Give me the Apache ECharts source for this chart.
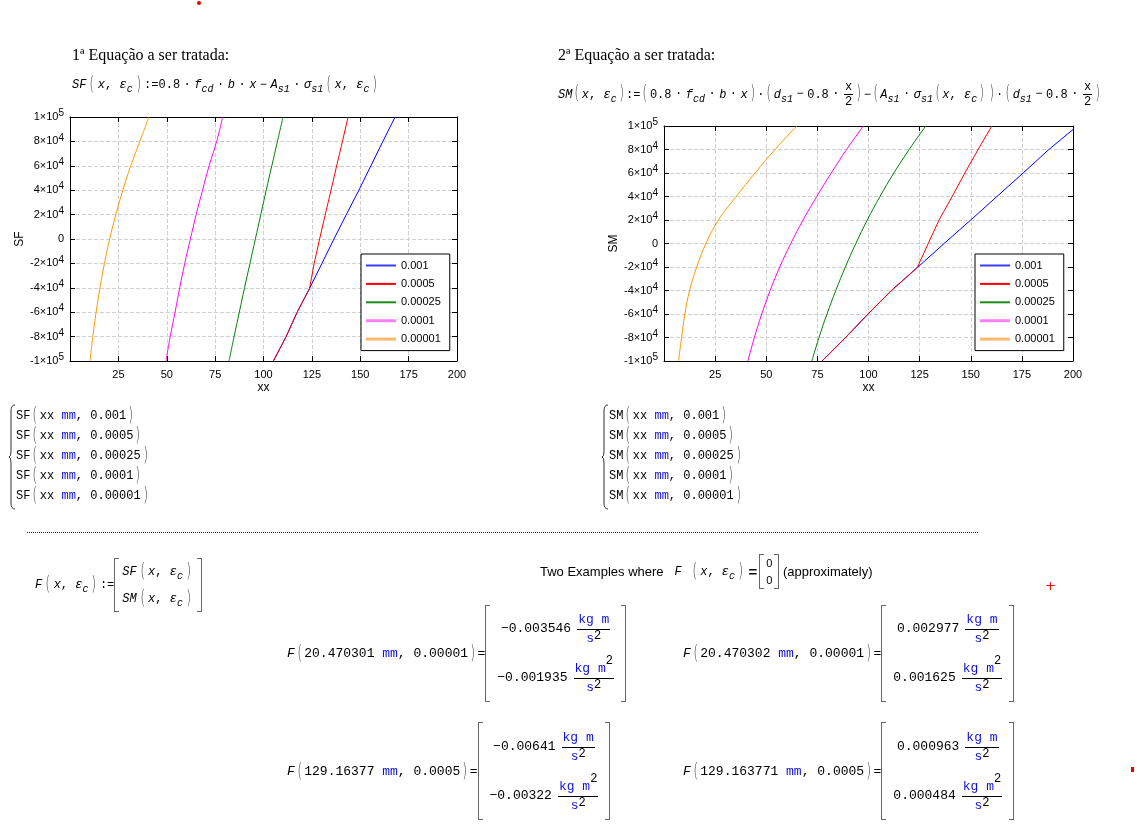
<!DOCTYPE html>
<html>
<head>
<meta charset="utf-8">
<script src="https://cdn.jsdelivr.net/npm/echarts@6/dist/echarts.min.js"></script>
<style>
body{margin:0;background:#fff;}
.page{position:relative;width:1137px;height:832px;overflow:hidden;}
#chart{position:absolute;left:0;top:0;width:1137px;height:832px;}
.t{position:absolute;white-space:nowrap;color:#000;}
.ser{font-family:"Liberation Serif";font-size:16px;}
.mc{font-family:"Liberation Mono";font-size:12px;}
.sans{font-family:"Liberation Sans";font-size:13px;}
.mc i{font-style:italic;}
.mc sub{font-size:10px;font-style:italic;vertical-align:-4px;line-height:0;}
.o{margin:0 3.5px;}
.u{color:#1010e0;}
.p{font-family:"DejaVu Sans";font-weight:200;font-size:19px;color:#333;display:inline-block;transform:scaleX(.6);vertical-align:-2px;line-height:10px;margin:0 1px;}
.wp .p{margin:0 2px;}
.mat{position:relative;display:inline-flex;flex-direction:column;align-items:center;justify-content:space-around;padding:0 9px;vertical-align:middle;}
.mat:before,.mat:after{content:"";position:absolute;top:0;bottom:0;width:4px;border:1.5px solid #666;}
.mat:before{left:0;border-right:none;}
.mat:after{right:0;border-left:none;}
.fr{display:inline-flex;flex-direction:column;align-items:center;vertical-align:middle;margin-left:6px;}
.fr .n{border-bottom:1px solid #000;padding:0 1px 2px;}
.fr .d{padding-top:1px;}
.fr sup{color:#000;font-size:12px;line-height:0;vertical-align:3px;}
.fr .n sup{vertical-align:8px;}
.xf{display:inline-flex;flex-direction:column;align-items:center;vertical-align:middle;margin:0 1px;}
.xf span:first-child{border-bottom:1px solid #000;padding:0 1px;}
.res{display:flex;align-items:center;}
.res .mat{height:100%;}
.big{font-size:13px;}
.lst{line-height:20px;}
</style>
</head>
<body>
<div class="page">
	<div id="chart"></div>

	<div class="t" style="left:197px;top:1px;width:4px;height:4px;border-radius:2px;background:#e00;"></div>

	<div class="t ser" style="left:72px;top:46px;">1ª Equação a ser tratada:</div>
	<div class="t mc wp" style="left:72px;top:78px;"><i>SF</i><span class="p">(</span><i>x</i>, <i>ε</i><sub>c</sub><span class="p">)</span>:=0.8<span class="o">·</span><i>f</i><sub>cd</sub><span class="o">·</span><i>b</i><span class="o">·</span><i>x</i><span class="o">−</span><i>A</i><sub>s1</sub><span class="o">·</span><i>σ</i><sub>s1</sub><span class="p">(</span><i>x</i>, <i>ε</i><sub>c</sub><span class="p">)</span></div>

	<div class="t ser" style="left:558px;top:46px;">2ª Equação a ser tratada:</div>
	<div class="t mc res" style="left:558px;top:80px;height:28px;"><span><i>SM</i><span class="p">(</span><i>x</i>, <i>ε</i><sub>c</sub><span class="p">)</span>:=<span class="p">(</span>0.8<span class="o">·</span><i>f</i><sub>cd</sub><span class="o">·</span><i>b</i><span class="o">·</span><i>x</i><span class="p">)</span>·<span class="p">(</span><i>d</i><sub>s1</sub><span class="o">−</span>0.8<span class="o">·</span><span class="xf"><span>x</span><span>2</span></span><span class="p">)</span>−<span class="p">(</span><i>A</i><sub>s1</sub><span class="o">·</span><i>σ</i><sub>s1</sub><span class="p">(</span><i>x</i>, <i>ε</i><sub>c</sub><span class="p">)</span><span class="p">)</span>·<span class="p">(</span><i>d</i><sub>s1</sub><span class="o">−</span>0.8<span class="o">·</span><span class="xf"><span>x</span><span>2</span></span><span class="p">)</span></span></div>

	<svg class="t" style="left:8px;top:404px;" width="8" height="106"><path d="M7,1 Q3,1 3,7 L3,47 Q3,53 1,53 Q3,53 3,59 L3,99 Q3,105 7,105" fill="none" stroke="#333" stroke-width="1"/></svg>
	<div class="t mc lst" id="listSF" style="left:16px;top:406px;"></div>
	<svg class="t" style="left:601px;top:404px;" width="8" height="106"><path d="M7,1 Q3,1 3,7 L3,47 Q3,53 1,53 Q3,53 3,59 L3,99 Q3,105 7,105" fill="none" stroke="#333" stroke-width="1"/></svg>
	<div class="t mc lst" id="listSM" style="left:609px;top:406px;"></div>

	<div class="t" style="left:27px;top:532px;width:951px;border-top:1px dotted #1b1b6b;"></div>

	<div class="t mc res wp" style="left:35px;top:558px;height:54px;"><span><i>F</i><span class="p">(</span><i>x</i>, <i>ε</i><sub>c</sub><span class="p">)</span>:=</span><span class="mat" style="padding:0 8px;"><span><i>SF</i><span class="p">(</span><i>x</i>, <i>ε</i><sub>c</sub><span class="p">)</span></span><span><i>SM</i><span class="p">(</span><i>x</i>, <i>ε</i><sub>c</sub><span class="p">)</span></span></span></div>

	<div class="t sans res wp" style="left:540px;top:554px;height:35px;"><span>Two Examples where&nbsp;&nbsp;&nbsp;</span><span class="mc"><i>F</i> <span class="p">(</span><i>x</i>, <i>ε</i><sub>c</sub><span class="p">)</span></span><b style="font-size:15px;margin:0 2px;">=</b><span class="mat" style="padding:0 7px;font-size:11px;"><span>0</span><span>0</span></span><span>&nbsp;(approximately)</span></div>

	<div class="t" style="left:1045px;top:578px;color:#e00;font-family:'DejaVu Sans';font-size:13px;">+</div>
	<div class="t" style="left:1131px;top:767px;width:3px;height:5px;background:#e00;"></div>

	<div id="results"></div>
</div>

<script type="text/javascript">
	// legend names (epsilon_c) and line colours
	var eps = ["0.001","0.0005","0.00025","0.0001","0.00001"];
	var colors = ["#0000ff","#ff0000","#008000","#ff00ff","#ff9900"];
	var legendColors = ["#3c3cff","#ff0000","#1c8c1c","#ff80ff","#ffb870"];

	// x-axis tick labels
	var xTickLabels = [25,50,75,100,125,150,175,200];

	// SF(xx, eps) : [xx, SF]
	var sf_001   = [[105.1,-100000],[111.7,-80000],[117.4,-60000],[123.8,-40500],[130.2,-20000],[136.4,0],[142.8,20000],[149.3,40000],[155.5,60000],[161.7,80000],[168.0,100000]];
	var sf_0005  = [[105.1,-100000],[111.7,-80000],[117.4,-60000],[123.8,-40500],[126.2,-20000],[129.0,0],[131.9,20000],[134.9,40000],[137.8,60000],[140.8,80000],[143.7,100000]];
	var sf_00025 = [[82.2,-100000],[84.8,-80000],[87.5,-60000],[90.2,-40000],[93.0,-20000],[95.8,0],[98.6,20000],[101.4,40000],[104.3,60000],[107.2,80000],[110.1,100000]];
	var sf_0001  = [[49.6,-100000],[51.8,-80000],[54.3,-60000],[56.7,-40000],[59.3,-20000],[62.2,0],[65.2,20000],[68.5,40000],[71.9,60000],[75.8,80000],[78.9,100000]];
	var sf_00001 = [[10.3,-100000],[11.8,-80000],[13.5,-60000],[15.5,-40000],[17.8,-20000],[20.5,0],[23.7,20000],[27.3,40000],[31.4,60000],[36.1,80000],[40.8,100000]];

	// SM(xx, eps) : [xx, SM]
	var sm_001   = [[77.3,-100000],[88.8,-80000],[99.8,-60000],[111.2,-40000],[123.8,-20600],[137.0,0],[150.0,20000],[162.8,40000],[175.6,60000],[188.2,80000],[200,97000]];
	var sm_0005  = [[77.3,-100000],[88.8,-80000],[99.8,-60000],[111.2,-40000],[123.8,-20600],[129.2,0],[134.5,20000],[140.9,40000],[147.1,60000],[153.6,80000],[160.3,100000]];
	var sm_00025 = [[72.3,-100000],[75.8,-80000],[79.7,-60000],[84.0,-40000],[88.7,-20000],[93.8,0],[99.4,20000],[105.6,40000],[112.4,60000],[119.9,80000],[128.0,100000]];
	var sm_0001  = [[41.0,-100000],[44.2,-80000],[47.8,-60000],[51.9,-40000],[56.6,-20000],[62.0,0],[68.0,20000],[74.7,40000],[81.8,60000],[89.3,80000],[97.5,100000]];
	var sm_00001 = [[7.1,-100000],[8.6,-80000],[10.2,-60000],[12.5,-40000],[16.0,-20000],[20.5,0],[26.6,20000],[35.3,40000],[44.5,60000],[54.3,80000],[64.9,100000]];

	// worked examples F(x, eps) = [SF; SM]
	var exLabels = ["20.470301","20.470302","129.16377","129.163771"];
	var exEps = ["0.00001","0.00001","0.0005","0.0005"];
	var exSF = ["−0.003546","0.002977","−0.00641","0.000963"];
	var exSM = ["−0.001935","0.001625","−0.00322","0.000484"];

	var sfData = [sf_001,sf_0005,sf_00025,sf_0001,sf_00001];
	var smData = [sm_001,sm_0005,sm_00025,sm_0001,sm_00001];

	//y tick label as a×10^n
	function sci(v){
		if(v === 0) return "{m|0}";
		var e = Math.floor(Math.log10(Math.abs(v)) + 1e-9);
		var m = Math.round(v / Math.pow(10,e));
		return "{m|" + m + "×10}{e|" + e + "}";
	}

	var lblFont = "Liberation Sans";

	function axesX(g){
		return [{
			gridIndex:g,type:"value",min:0,max:200,interval:25,position:"bottom",
			name:"xx",nameLocation:"middle",nameGap:21,
			nameTextStyle:{fontFamily:lblFont,fontSize:12,color:"#000"},
			axisLine:{onZero:false,lineStyle:{color:"#000",width:1}},
			axisTick:{inside:true,length:5,lineStyle:{color:"#000"}},
			axisLabel:{margin:8,fontFamily:lblFont,fontSize:11,color:"#000",
				formatter:function(v){ return xTickLabels.indexOf(v) >= 0 ? String(v) : ""; }},
			splitLine:{show:true,lineStyle:{color:"#cfcfcf",type:[4,2]}}
		},{
			gridIndex:g,type:"value",min:0,max:200,interval:25,position:"top",
			axisLine:{onZero:false,lineStyle:{color:"#000",width:1}},
			axisTick:{inside:true,length:5,lineStyle:{color:"#000"}},
			axisLabel:{show:false},splitLine:{show:false}
		}];
	}

	function axesY(g,name){
		return [{
			gridIndex:g,type:"value",min:-100000,max:100000,interval:20000,position:"left",
			name:name,nameLocation:"middle",nameGap:44,nameRotate:90,
			nameTextStyle:{fontFamily:lblFont,fontSize:12,color:"#000"},
			axisLine:{onZero:false,lineStyle:{color:"#000",width:1}},
			axisTick:{inside:true,length:5,lineStyle:{color:"#000"}},
			axisLabel:{margin:6,formatter:sci,rich:{
				m:{fontFamily:lblFont,fontSize:11,color:"#000"},
				e:{fontFamily:lblFont,fontSize:10,color:"#000",padding:[0,0,7,0]}
			}},
			splitLine:{show:true,lineStyle:{color:"#cfcfcf",type:[4,2]}}
		},{
			gridIndex:g,type:"value",min:-100000,max:100000,interval:20000,position:"right",
			axisLine:{onZero:false,lineStyle:{color:"#000",width:1}},
			axisTick:{inside:true,length:5,lineStyle:{color:"#000"}},
			axisLabel:{show:false},splitLine:{show:false}
		}];
	}

	//legend: plain line samples (thin rect path keeps its aspect)
	function legendAt(left,top){
		return {
			left:left,top:top,orient:"vertical",selectedMode:false,
			itemWidth:30,itemHeight:14,itemGap:7.4,padding:[6,9,6,5],
			symbolKeepAspect:true,
			borderColor:"#000",borderWidth:1,backgroundColor:"#fff",
			textStyle:{fontFamily:lblFont,fontSize:11,color:"#000"},
			data:eps.map(function(n,i){
				return {
					name:n,
					icon:i > 2 ? "path://M0,0H30V3H0Z" : "path://M0,0H30V2H0Z",
					itemStyle:{color:legendColors[i],borderWidth:0}
				};
			})
		};
	}

	var series = [];
	[sfData,smData].forEach(function(set,g){
		set.forEach(function(d,i){
			series.push({
				name:eps[i],type:"line",data:d,
				xAxisIndex:g*2,yAxisIndex:g*2,
				symbol:"none",smooth:i < 2 ? false : 0.4,
				lineStyle:{color:colors[i],width:1},itemStyle:{color:colors[i]},
				clip:true,silent:true,animation:false
			});
		});
	});

	var option = {
		animation:false,
		grid:[
			{left:70,top:117,width:387,height:244},
			{left:664,top:126,width:409,height:235}
		],
		xAxis:axesX(0).concat(axesX(1)),
		yAxis:axesY(0,"SF").concat(axesY(1,"SM")),
		legend:[legendAt(361,254),legendAt(975,254)],
		series:series
	};

	var myChart = echarts.init(document.getElementById("chart"),null,{renderer:"canvas"});
	myChart.setOption(option);

	//bracketed lists under each plot
	function fillList(id,fn){
		var html = eps.map(function(e){
			return fn + '<span class="p">(</span>xx <span class="u">mm</span>, ' + e + '<span class="p">)</span>';
		}).join("<br>");
		document.getElementById(id).innerHTML = html;
	}
	fillList("listSF","SF");
	fillList("listSM","SM");

	//result matrices
	function unit(sq){
		return '<span class="fr"><span class="n"><span class="u">kg m</span>' + (sq ? '<sup>2</sup>' : '') + '</span><span class="d"><span class="u">s</span><sup>2</sup></span></span>';
	}
	var pos = [[287,605,97],[683,605,97],[287,722,98],[683,722,98]];
	var out = "";
	exLabels.forEach(function(l,i){
		out += '<div class="t mc big res" style="left:' + pos[i][0] + 'px;top:' + pos[i][1] + 'px;height:' + pos[i][2] + 'px;">' +
			'<span><i>F</i><span class="p">(</span>' + l + ' <span class="u">mm</span>, ' + exEps[i] + '<span class="p">)</span>=</span>' +
			'<span class="mat" style="padding:0 12px;"><span>' + exSF[i] + unit(false) + '</span><span>' + exSM[i] + unit(true) + '</span></span></div>';
	});
	document.getElementById("results").innerHTML = out;
</script>
</body>
</html>
